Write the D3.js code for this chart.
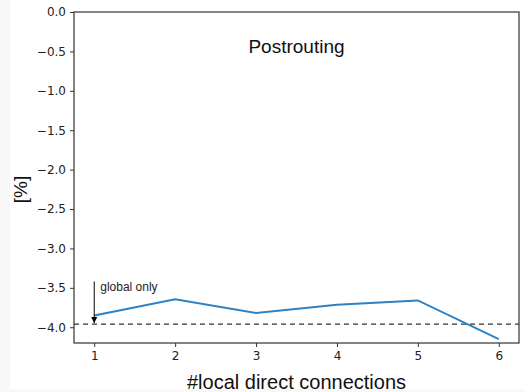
<!DOCTYPE html>
<html>
<head>
<meta charset="utf-8">
<script src="https://cdn.jsdelivr.net/npm/d3@7"></script>
<style>
  html, body { margin: 0; padding: 0; background: #f8f8f8; }
  svg { display: block; }
</style>
</head>
<body>
<svg id="chart" width="525" height="392"></svg>
<script>
// Relative change per number of local direct connections
const connections = [1, 2, 3, 4, 5, 6];
const changePct = [-3.85, -3.645, -3.82, -3.715, -3.66, -4.15];
const globalOnly = -3.96;
const yTicks = [0.0, -0.5, -1.0, -1.5, -2.0, -2.5, -3.0, -3.5, -4.0];
const xTicks = [1, 2, 3, 4, 5, 6];

const svg = d3.select("#chart");
const W = 525, H = 392;
const plot = { left: 74, right: 519, top: 12, bottom: 343 };

// white figure area
svg.append("rect").attr("x", 10).attr("y", 0).attr("width", W - 10).attr("height", 389).attr("fill", "#ffffff");

const x = d3.scaleLinear().domain([0.75, 6.25]).range([plot.left, plot.right]);
const y = d3.scaleLinear().domain([-4.2, 0]).range([plot.bottom, plot.top]);

const fmt = d => d3.format(".1f")(d).replace("-", "\u2212");

// y axis
const yAxis = svg.append("g")
  .attr("transform", `translate(${plot.left},0)`)
  .call(d3.axisLeft(y).tickValues(yTicks).tickFormat(fmt).tickSize(4).tickPadding(4));
// x axis
const xAxis = svg.append("g")
  .attr("transform", `translate(0,${plot.bottom})`)
  .call(d3.axisBottom(x).tickValues(xTicks).tickFormat(d3.format("d")).tickSize(4).tickPadding(4));

[yAxis, xAxis].forEach(g => {
  g.select(".domain").remove();
  g.selectAll(".tick line").attr("stroke", "#333").attr("stroke-width", 1);
  g.selectAll(".tick text").attr("fill", "#222")
    .style("font-family", "'DejaVu Sans', sans-serif").style("font-size", "12px");
});

// axes frame
svg.append("rect")
  .attr("x", plot.left).attr("y", plot.top)
  .attr("width", plot.right - plot.left).attr("height", plot.bottom - plot.top)
  .attr("fill", "none").attr("stroke", "#333").attr("stroke-width", 1.2);

// baseline for the global-only configuration
svg.append("line")
  .attr("x1", plot.left).attr("x2", plot.right)
  .attr("y1", y(globalOnly)).attr("y2", y(globalOnly))
  .attr("stroke", "#333").attr("stroke-width", 1.1).attr("stroke-dasharray", "5,4");

// series line
const line = d3.line().x((d, i) => x(connections[i])).y(d => y(d));
svg.append("path")
  .datum(changePct)
  .attr("d", line)
  .attr("fill", "none").attr("stroke", "#2c82c4").attr("stroke-width", 2);

// annotation arrow
svg.append("defs").append("marker")
  .attr("id", "head").attr("viewBox", "0 0 10 10")
  .attr("refX", 10).attr("refY", 5)
  .attr("markerWidth", 6).attr("markerHeight", 8).attr("markerUnits", "userSpaceOnUse")
  .attr("orient", "auto")
  .append("path").attr("d", "M0,0 L10,5 L0,10 Z").attr("fill", "#000");

svg.append("line")
  .attr("x1", x(1)).attr("x2", x(1))
  .attr("y1", y(-3.42)).attr("y2", y(globalOnly) - 1)
  .attr("stroke", "#000").attr("stroke-width", 1)
  .attr("marker-end", "url(#head)");

svg.append("text")
  .attr("x", x(1) + 6).attr("y", y(-3.42) + 9)
  .style("font-family", "'Liberation Sans', Arial, sans-serif").style("font-size", "12px")
  .attr("fill", "#222")
  .text("global only");

// title and axis labels
const labelFont = "'Liberation Sans', Arial, sans-serif";
svg.append("text")
  .attr("x", (plot.left + plot.right) / 2).attr("y", 53)
  .attr("text-anchor", "middle")
  .style("font-family", labelFont).style("font-size", "19px").attr("fill", "#111")
  .text("Postrouting");

svg.append("text")
  .attr("x", (plot.left + plot.right) / 2).attr("y", 389)
  .attr("text-anchor", "middle")
  .style("font-family", labelFont).style("font-size", "20px").attr("fill", "#111")
  .text("#local direct connections");

svg.append("text")
  .attr("transform", `translate(27,${(plot.top + plot.bottom) / 2 + 12}) rotate(-90)`)
  .attr("text-anchor", "middle")
  .style("font-family", labelFont).style("font-size", "19px").attr("fill", "#111")
  .text("[%]");
</script>
</body>
</html>
